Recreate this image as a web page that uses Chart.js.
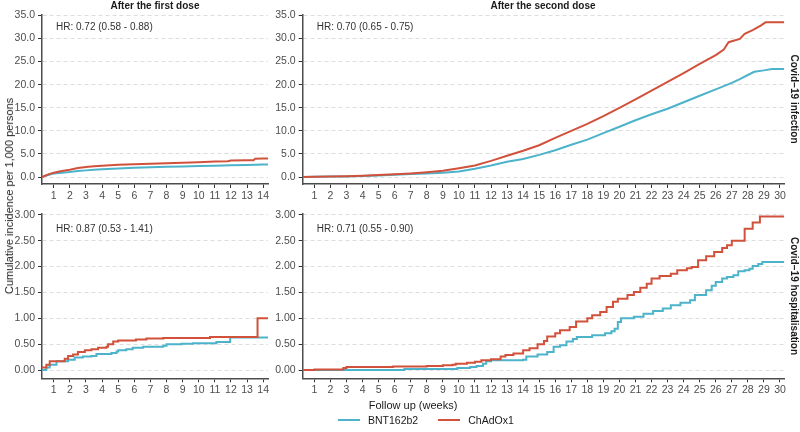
<!DOCTYPE html>
<html>
<head>
<meta charset="utf-8">
<script src="https://cdn.jsdelivr.net/npm/chart.js@4.4.1/dist/chart.umd.min.js"></script>
<style>
  html, body { margin: 0; padding: 0; background: #fff; }
  #wrap { position: relative; width: 800px; height: 432px; overflow: hidden; font-family: "Liberation Sans", Arial, sans-serif; color: #1a1a1a; }
  #wrap canvas { position: absolute; left: 0; top: 0; }
  .lbl { position: absolute; white-space: nowrap; }
  .col { top: 0; font-size: 10px; font-weight: bold; transform: translateX(-50%); }
  .row { font-size: 10px; font-weight: bold; transform: translate(-50%, -50%) rotate(90deg); }
  .ytitle { font-size: 11px; transform: translate(-50%, -50%) rotate(-90deg); }
  .xtitle { font-size: 11px; transform: translate(-50%, -50%); }
  .legend { top: 414px; left: 338px; font-size: 10.5px; display: flex; align-items: center; }
  .key { display: inline-block; width: 22px; height: 2px; margin-right: 8px; }
</style>
</head>
<body>
<div id="wrap">
  <canvas id="c1" width="800" height="432"></canvas>
  <canvas id="c2" width="800" height="432"></canvas>
  <canvas id="c3" width="800" height="432"></canvas>
  <canvas id="c4" width="800" height="432"></canvas>
  <div class="lbl col" style="left:155px">After the first dose</div>
  <div class="lbl col" style="left:543px">After the second dose</div>
  <div class="lbl row" style="left:794px; top:99px">Covid−19 infection</div>
  <div class="lbl row" style="left:794px; top:296px">Covid−19 hospitalisation</div>
  <div class="lbl ytitle" style="left:9px; top:196px">Cumulative incidence per 1,000 persons</div>
  <div class="lbl xtitle" style="left:413px; top:405px">Follow up (weeks)</div>
  <div class="lbl legend">
    <span class="key" style="background:#4cb3ca"></span><span style="margin-right:20px">BNT162b2</span>
    <span class="key" style="background:#d1513b"></span><span>ChAdOx1</span>
  </div>
</div>
<script>
// tick labels
const firstDoseWeeks = [1, 2, 3, 4, 5, 6, 7, 8, 9, 10, 11, 12, 13, 14];
const secondDoseWeeks = [1, 2, 3, 4, 5, 6, 7, 8, 9, 10, 11, 12, 13, 14, 15, 16, 17, 18, 19, 20, 21, 22, 23, 24, 25, 26, 27, 28, 29, 30];
const infectionTicks = [0, 5, 10, 15, 20, 25, 30, 35];
const hospTicks = [0, 0.5, 1, 1.5, 2, 2.5, 3];

// Covid-19 infection, after the first dose
const inf1BntWeeks = [0.27, 0.5, 0.75, 1, 1.5, 2, 2.5, 3, 3.5, 4, 5, 6, 7, 8, 9, 10, 11, 12, 13, 14, 14.3];
const inf1BntValues = [0, 0.3, 0.55, 0.75, 0.95, 1.1, 1.3, 1.45, 1.6, 1.7, 1.85, 2.0, 2.15, 2.25, 2.3, 2.4, 2.45, 2.55, 2.6, 2.7, 2.7];
const inf1ChadWeeks = [0.27, 0.5, 0.75, 1, 1.5, 2, 2.5, 3, 3.5, 4, 5, 6, 7, 8, 9, 10, 11, 11.8, 12, 13, 13.4, 13.5, 14, 14.3];
const inf1ChadValues = [0, 0.35, 0.7, 0.95, 1.3, 1.6, 1.95, 2.2, 2.35, 2.45, 2.65, 2.75, 2.9, 3.0, 3.1, 3.2, 3.35, 3.45, 3.6, 3.65, 3.65, 3.95, 4.0, 4.0];

// Covid-19 infection, after the second dose
const inf2BntWeeks = [0.27, 1, 2, 3, 4, 5, 6, 7, 8, 9, 10, 11, 12, 13, 14, 15, 16, 17, 18, 19, 20, 21, 22, 23, 24, 25, 26, 27, 27.5, 28, 28.4, 29, 29.5, 30.27];
const inf2BntValues = [0, 0.05, 0.1, 0.15, 0.25, 0.35, 0.5, 0.65, 0.8, 0.95, 1.2, 1.8, 2.5, 3.3, 3.9, 4.8, 5.8, 7.0, 8.1, 9.5, 10.9, 12.3, 13.6, 14.8, 16.2, 17.6, 19.0, 20.4, 21.2, 22.1, 22.8, 23.1, 23.4, 23.4];
const inf2ChadWeeks = [0.27, 1, 2, 3, 4, 5, 6, 7, 8, 9, 10, 11, 12, 13, 14, 15, 16, 17, 18, 19, 20, 21, 22, 23, 24, 25, 26, 26.5, 26.8, 27.5, 27.8, 28.3, 28.8, 29.1, 30.27];
const inf2ChadValues = [0, 0.05, 0.12, 0.2, 0.3, 0.45, 0.6, 0.8, 1.05, 1.35, 1.9, 2.5, 3.5, 4.6, 5.7, 6.9, 8.5, 10.0, 11.5, 13.2, 15.0, 16.8, 18.7, 20.6, 22.5, 24.5, 26.4, 27.6, 29.2, 29.9, 31.0, 31.8, 32.8, 33.5, 33.5];

// Covid-19 hospitalisation, after the first dose
const hosp1BntWeeks = [0.27, 0.54, 0.75, 1.17, 1.89, 2.3, 2.8, 3.34, 3.65, 4.58, 4.9, 5.0, 5.5, 5.9, 6.55, 7.8, 8.0, 8.93, 9.65, 11.1, 11.95, 14.3];
const hosp1BntValues = [0, 0.05, 0.1, 0.17, 0.2, 0.24, 0.26, 0.27, 0.31, 0.33, 0.36, 0.38, 0.4, 0.43, 0.45, 0.47, 0.5, 0.51, 0.52, 0.54, 0.63, 0.63];
const hosp1ChadWeeks = [0.27, 0.54, 0.75, 1.68, 1.89, 2.2, 2.5, 2.93, 3.34, 3.75, 4.27, 4.37, 4.69, 5.0, 6.1, 6.75, 7.8, 10.7, 13.65, 14.3];
const hosp1ChadValues = [0.05, 0.1, 0.17, 0.22, 0.27, 0.3, 0.35, 0.38, 0.4, 0.43, 0.45, 0.5, 0.55, 0.57, 0.59, 0.61, 0.62, 0.64, 1.0, 1.0];

// Covid-19 hospitalisation, after the second dose
const hosp2BntWeeks = [0.27, 6.6, 9.9, 10.7, 11.1, 11.5, 11.7, 12, 14, 14.2, 14.9, 15.5, 15.9, 16.3, 16.7, 17.1, 17.35, 18.3, 19.1, 19.5, 19.7, 19.9, 20.1, 20.9, 21.5, 22.1, 22.7, 23.2, 23.8, 24.4, 24.7, 25.4, 25.75, 26, 26.4, 26.7, 27.1, 27.4, 27.8, 28.1, 28.3, 28.65, 28.9, 30.27];
const hosp2BntValues = [0, 0.02, 0.04, 0.06, 0.08, 0.12, 0.17, 0.19, 0.2, 0.26, 0.3, 0.35, 0.45, 0.48, 0.55, 0.6, 0.64, 0.67, 0.71, 0.75, 0.8, 0.93, 1.0, 1.03, 1.09, 1.14, 1.19, 1.25, 1.3, 1.35, 1.45, 1.54, 1.63, 1.7, 1.77, 1.8, 1.83, 1.91, 1.93, 1.96, 2.01, 2.05, 2.09, 2.09];
const hosp2ChadWeeks = [0.27, 1, 2.8, 3, 5.9, 8, 9, 9.6, 9.8, 10.5, 11, 11.4, 12, 12.6, 12.9, 13.4, 14, 14.4, 14.9, 15.3, 15.5, 16, 16.3, 16.9, 17.3, 18, 18.3, 18.8, 19.2, 19.6, 19.9, 20.5, 20.9, 21.3, 21.7, 22, 22.5, 23.2, 23.6, 24.2, 24.5, 24.9, 25.4, 25.9, 26.4, 26.7, 27, 27.8, 28.3, 28.75, 30.27];
const hosp2ChadValues = [0, 0.01, 0.04, 0.06, 0.07, 0.08, 0.09, 0.1, 0.12, 0.14, 0.16, 0.19, 0.21, 0.26, 0.29, 0.32, 0.38, 0.42, 0.5, 0.56, 0.65, 0.71, 0.77, 0.83, 0.94, 1.0, 1.06, 1.12, 1.22, 1.32, 1.38, 1.45, 1.51, 1.59, 1.67, 1.77, 1.82, 1.86, 1.93, 1.97, 1.99, 2.12, 2.2, 2.28, 2.36, 2.41, 2.5, 2.73, 2.85, 2.97, 2.97];

const hrTexts = ['HR: 0.72 (0.58 - 0.88)', 'HR: 0.70 (0.65 - 0.75)', 'HR: 0.87 (0.53 - 1.41)', 'HR: 0.71 (0.55 - 0.90)'];

const bntColor = '#4cb3ca';
const chadColor = '#d1513b';
const FONT = '"Liberation Sans", Arial, sans-serif';
const W = 800, H = 432;
const Y_AXIS_W = 45, X_AXIS_H = 24;

// draws the HR text in the top left corner of the panel
const hrPlugin = {
    id: 'hrLabel',
    afterDraw(chart, args, opts) {
        const ctx = chart.ctx;
        const area = chart.chartArea;
        ctx.save();
        ctx.font = '10px ' + FONT;
        ctx.fillStyle = '#333333';
        ctx.textBaseline = 'middle';
        ctx.fillText(opts.text, area.left + 14, area.top + opts.dy);
        ctx.restore();
    }
};

function toPoints(weeks, values) {
    return weeks.map((w, i) => ({x: w, y: values[i]}));
}

function makePanel(id, p) {
    const ctx = document.getElementById(id).getContext('2d');
    // 'before' = horizontal first, then up (like geom_step)
    const step = p.stepped ? 'before' : false;
    return new Chart(ctx, {
        type: 'line',
        data: {
            datasets: [{
                label: 'ChAdOx1',
                data: toPoints(p.chadWeeks, p.chadValues),
                borderColor: chadColor,
                borderWidth: 2,
                pointRadius: 0,
                stepped: step,
                fill: false
            }, {
                label: 'BNT162b2',
                data: toPoints(p.bntWeeks, p.bntValues),
                borderColor: bntColor,
                borderWidth: 2,
                pointRadius: 0,
                stepped: step,
                fill: false
            }]
        },
        options: {
            responsive: false,
            animation: false,
            layout: {
                padding: {
                    left: p.area.left - Y_AXIS_W,
                    right: W - p.area.right,
                    top: p.area.top,
                    bottom: H - p.area.bottom - X_AXIS_H
                }
            },
            plugins: {
                legend: {display: false},
                tooltip: {enabled: false},
                hrLabel: {text: p.hr, dy: p.hrDy}
            },
            scales: {
                x: {
                    type: 'linear',
                    min: 0.27,
                    max: p.xMax,
                    afterBuildTicks: s => { s.ticks = p.xTicks.map(v => ({value: v})); },
                    afterFit: s => { s.height = X_AXIS_H; },
                    grid: {drawOnChartArea: false, drawTicks: true, tickLength: 4, color: '#333333', tickColor: '#333333', tickWidth: 1},
                    border: {display: true, color: '#4d4d4d', width: 1.5},
                    ticks: {font: {family: FONT, size: 10.5}, color: '#4d4d4d', padding: 2, maxRotation: 0, autoSkip: false}
                },
                y: {
                    min: p.yMin,
                    max: p.yMax,
                    afterBuildTicks: s => { s.ticks = p.yTicks.map(v => ({value: v})); },
                    afterFit: s => { s.width = Y_AXIS_W; },
                    grid: {color: '#dddddd', lineWidth: 1, drawTicks: true, tickLength: 4, tickColor: '#333333', tickWidth: 1},
                    border: {display: true, color: '#4d4d4d', width: 1.5, dash: [4, 3]},
                    ticks: {font: {family: FONT, size: 10.5}, color: '#4d4d4d', padding: 3, callback: v => v.toFixed(p.dec)}
                }
            }
        },
        plugins: [hrPlugin]
    });
}

makePanel('c1', {
    area: {left: 42, right: 268, top: 14.5, bottom: 184},
    xMax: 14.3, xTicks: firstDoseWeeks,
    yMin: -1.5, yMax: 35.2, yTicks: infectionTicks, dec: 1,
    bntWeeks: inf1BntWeeks, bntValues: inf1BntValues,
    chadWeeks: inf1ChadWeeks, chadValues: inf1ChadValues,
    stepped: false, hr: hrTexts[0], hrDy: 12.5
});
makePanel('c2', {
    area: {left: 302.7, right: 784.3, top: 14.5, bottom: 184},
    xMax: 30.27, xTicks: secondDoseWeeks,
    yMin: -1.5, yMax: 35.2, yTicks: infectionTicks, dec: 1,
    bntWeeks: inf2BntWeeks, bntValues: inf2BntValues,
    chadWeeks: inf2ChadWeeks, chadValues: inf2ChadValues,
    stepped: false, hr: hrTexts[1], hrDy: 12.5
});
makePanel('c3', {
    area: {left: 42, right: 268, top: 213.3, bottom: 378.3},
    xMax: 14.3, xTicks: firstDoseWeeks,
    yMin: -0.16, yMax: 3.03, yTicks: hospTicks, dec: 2,
    bntWeeks: hosp1BntWeeks, bntValues: hosp1BntValues,
    chadWeeks: hosp1ChadWeeks, chadValues: hosp1ChadValues,
    stepped: true, hr: hrTexts[2], hrDy: 15.5
});
makePanel('c4', {
    area: {left: 302.7, right: 784.3, top: 213.3, bottom: 378.3},
    xMax: 30.27, xTicks: secondDoseWeeks,
    yMin: -0.16, yMax: 3.03, yTicks: hospTicks, dec: 2,
    bntWeeks: hosp2BntWeeks, bntValues: hosp2BntValues,
    chadWeeks: hosp2ChadWeeks, chadValues: hosp2ChadValues,
    stepped: true, hr: hrTexts[3], hrDy: 15.5
});
</script>
</body>
</html>
